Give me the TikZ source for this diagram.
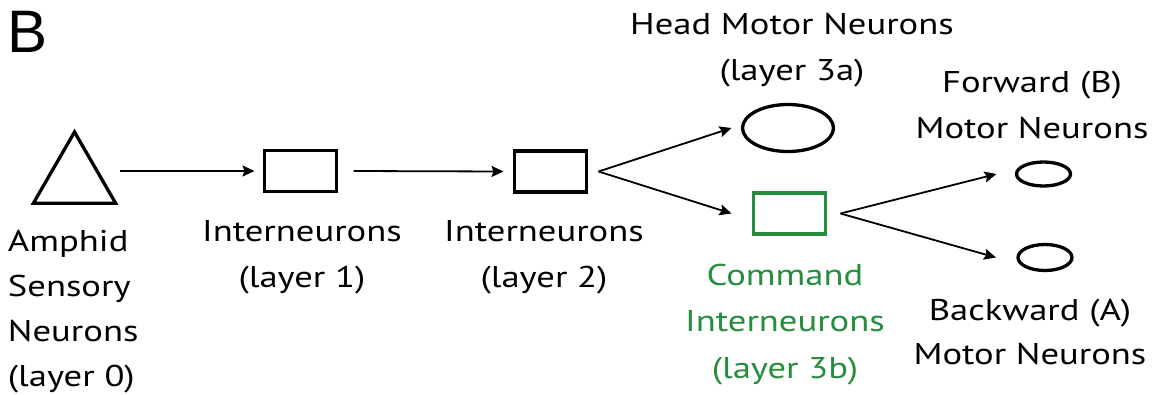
\documentclass[tikz,border=0pt]{standalone}
\usepackage{fontspec}
\setmainfont{PT Sans}[FakeStretch=1.22]
\newfontfamily\labelfont{Liberation Sans}
\usetikzlibrary{arrows.meta,shapes.geometric}
\definecolor{cmdgreen}{RGB}{38,140,62}
\tikzset{
  shape3/.style={draw=black, line width=3.3pt, inner sep=0pt, outer sep=0pt},
  boxnode/.style={shape3, rectangle, minimum width=72pt, minimum height=41pt},
  lbl/.style={font=\fontsize{30}{45.5}\selectfont, inner sep=0pt, outer sep=0pt, anchor=base, align=center},
  arr/.style={-{Stealth[length=12pt,width=11pt,inset=2pt]}, line width=1.8pt, black},
}
\begin{document}
\begin{tikzpicture}[x=1pt,y=-1pt]
\useasboundingbox (0,0) rectangle (1160,394);
% panel label
\node[font=\labelfont\fontsize{60}{60}\selectfont, inner sep=0pt, anchor=base west] (panel) at (7,52) {B};
% shapes
\node[shape3, regular polygon, regular polygon sides=3, minimum size=95pt] (tri) at (74.5,179.5) {};
\node[boxnode] (r1) at (300.5,171) {};
\node[boxnode] (r2) at (550.5,171.5) {};
\node[shape3, ellipse, minimum width=91pt, minimum height=47pt] (head) at (788,128) {};
\node[boxnode, draw=cmdgreen] (cmd) at (789.5,213.5) {};
\node[shape3, ellipse, minimum width=54pt, minimum height=24pt] (fwd) at (1043.5,174) {};
\node[shape3, ellipse, minimum width=54pt, minimum height=26pt] (bwd) at (1045,257.5) {};
% labels (base anchor = baseline of last line)
\node[lbl, align=left, anchor=base west, font=\fontsize{30}{45}\selectfont] (tlab) at (8,386) {Amphid\\Sensory\\Neurons\\(layer 0)};
\node[lbl] (r1lab) at (302,287) {Interneurons\\(layer 1)};
\node[lbl] (r2lab) at (544,287) {Interneurons\\(layer 2)};
\node[lbl] (headlab) at (792,80) {Head Motor Neurons\\(layer 3a)};
\node[lbl, text=cmdgreen, font=\fontsize{30}{46.5}\selectfont] (cmdlab) at (785,378) {Command\\Interneurons\\(layer 3b)};
\node[lbl] (fwdlab) at (1032,138) {Forward (B)\\Motor Neurons};
\node[lbl, font=\fontsize{30}{43.5}\selectfont] (bwdlab) at (1030,364) {Backward (A)\\Motor Neurons};
% connectors
\draw[arr] ([xshift=18pt]tri.east |- r1.west) -- ([xshift=-10pt]r1.west);
\draw[arr] ([xshift=17pt]r1.east) -- ([xshift=-11pt]r2.west);
\draw[arr] ([xshift=12pt]r2.east) -- ([xshift=-11pt]head.west);
\draw[arr] ([xshift=12pt]r2.east) -- ([xshift=-22pt]cmd.west);
\draw[arr] ([xshift=15pt]cmd.east) -- ([xshift=-20pt]fwd.west);
\draw[arr] ([xshift=15pt]cmd.east) -- ([xshift=-22pt]bwd.west);
\end{tikzpicture}
\end{document}
